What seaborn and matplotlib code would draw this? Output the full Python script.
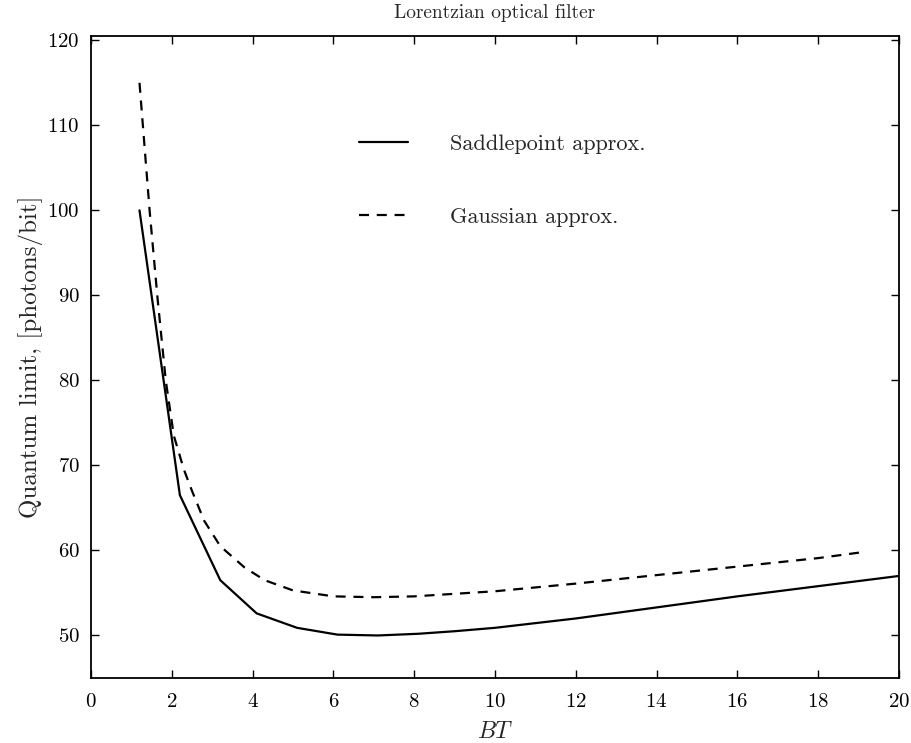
import pandas as pd
import numpy as np
import matplotlib
matplotlib.use("Agg")
import matplotlib.pyplot as plt
import seaborn as sns

# Values
saddle_bt = [1.2, 2.2, 3.2, 4.1, 5.1, 6.1, 7.1, 8.1, 9.0, 10.0, 12.0, 14.0, 16.0, 18.0, 20.0]
saddle_q = [100.0, 66.5, 56.5, 52.6, 50.9, 50.1, 50.0, 50.2, 50.5, 50.9, 52.0, 53.3, 54.6, 55.8, 57.0]

gauss_bt = [1.2, 1.45, 1.65, 1.85, 2.05, 2.3, 2.5, 2.8, 3.2, 3.8, 4.3, 5.0, 6.0, 7.0, 8.0,
            9.0, 10.0, 12.0, 14.0, 16.0, 18.0, 19.1]
gauss_q = [115.0, 100.0, 89.5, 80.0, 73.5, 69.5, 67.0, 63.5, 60.5, 58.0, 56.5, 55.3, 54.6,
           54.5, 54.6, 54.9, 55.2, 56.1, 57.1, 58.1, 59.1, 59.8]

series_names = ["Saddlepoint approx.", "Gaussian approx."]
x_ticks = list(range(0, 21, 2))
y_ticks = list(range(50, 121, 10))

df = pd.concat([
    pd.DataFrame({"BT": saddle_bt, "Q": saddle_q, "method": series_names[0]}),
    pd.DataFrame({"BT": gauss_bt, "Q": gauss_q, "method": series_names[1]}),
])

sns.set_style("ticks")
plt.rcParams["font.family"] = ["cmr10", "DejaVu Serif"]
plt.rcParams["mathtext.fontset"] = "cm"
plt.rcParams["axes.formatter.use_mathtext"] = True

fig = plt.figure(figsize=(9.12, 7.43), dpi=100)
ax = fig.add_axes([0.0998, 0.0875, 0.8859, 0.864])

sns.lineplot(data=df, x="BT", y="Q", hue="method", style="method",
             palette=["black", "black"],
             dashes={series_names[0]: "", series_names[1]: (4.5, 3.5)},
             linewidth=1.6, sort=False, estimator=None, ax=ax)

ax.set_xlim(0, 20)
ax.set_ylim(45, 120.5)
ax.set_xticks(x_ticks)
ax.set_yticks(y_ticks)
ax.tick_params(direction="in", length=6, width=1, top=True, right=True,
               labelsize=15, colors="black")
ax.tick_params(axis="x", pad=11)
ax.tick_params(axis="y", pad=8)
for s in ax.spines.values():
    s.set_linewidth(1.3)
    s.set_color("black")

ax.set_xlabel("$BT$", fontsize=17, labelpad=7)
ax.set_ylabel("Quantum limit, [photons/bit]", fontsize=18, labelpad=3)
ax.set_title("Lorentzian optical filter", fontsize=14, pad=13)

ax.legend(frameon=False, fontsize=16, handlelength=2.2, handletextpad=1.9,
          labelspacing=2.4, loc="upper left", bbox_to_anchor=(0.307, 0.878),
          title=None)

fig.savefig("out.png", dpi=100)
